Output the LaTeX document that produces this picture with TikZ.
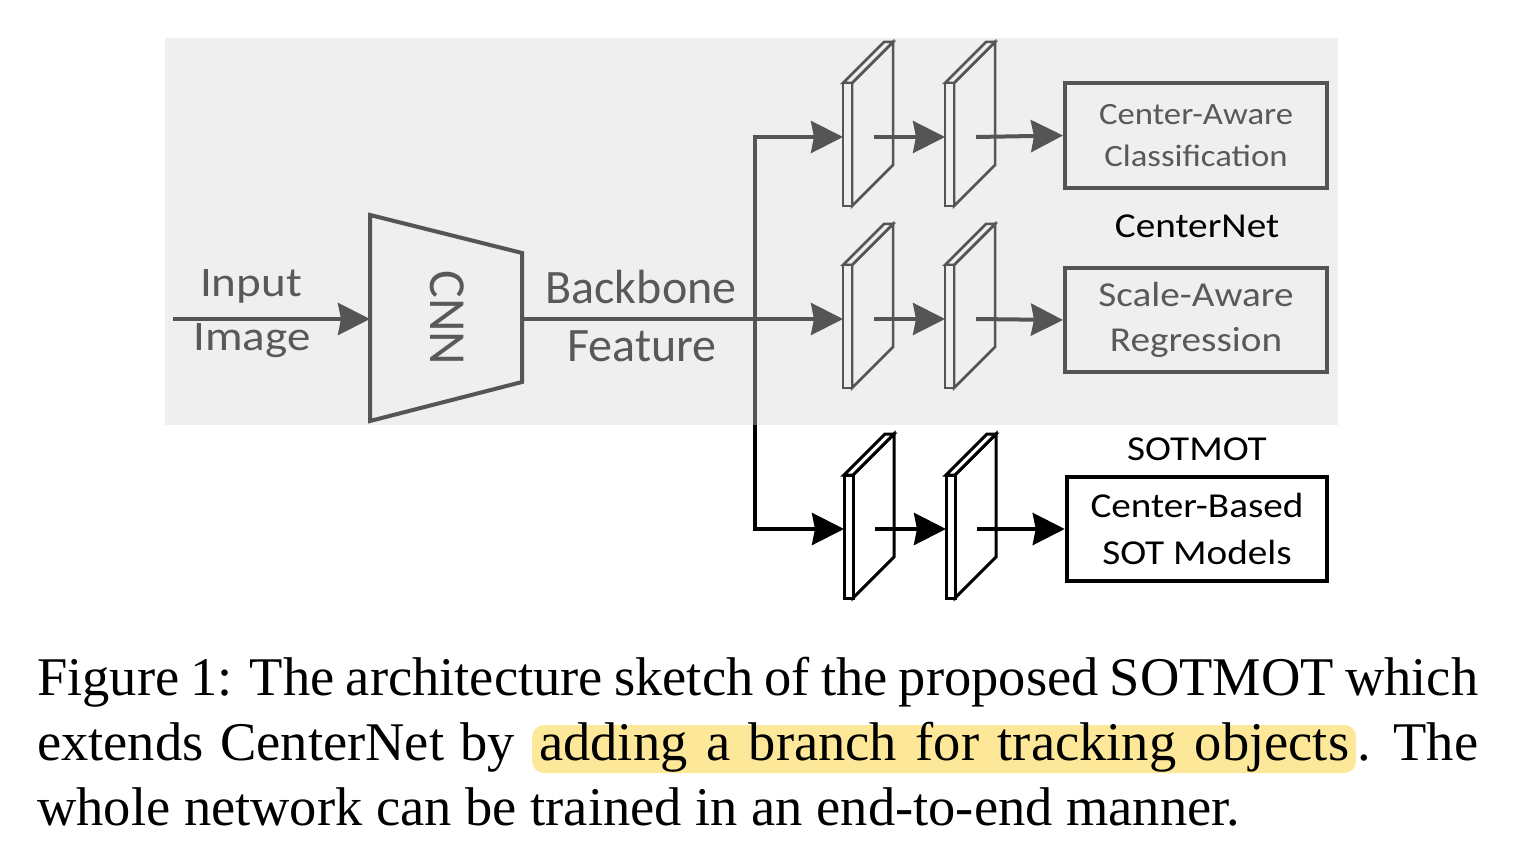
\documentclass[tikz,border=0pt]{standalone}
\usepackage{fontspec}
\setmainfont{Liberation Serif}
\newfontfamily\lab{Carlito}
\newfontfamily\labw[FakeStretch=1.12]{Carlito}
\usetikzlibrary{arrows.meta}
\definecolor{bgg}{HTML}{EFEFEF}
\definecolor{gl}{HTML}{555555}
\definecolor{gt}{HTML}{595959}
\definecolor{hl}{RGB}{253,232,154}
\tikzset{
  pics/slab/.style={code={
    \draw[pic actions] (9,-54) -- (50,-95) -- (50,28) -- (9,69) -- cycle;
    \draw[pic actions] (0,-54) -- (41,-95) -- (50,-95) -- (9,-54) -- cycle;
    \draw[pic actions] (0,-54) rectangle (9,69);
    \coordinate (-in) at (0,0);
    \coordinate (-out) at (31,0);
  }},
  tip/.style={-{Stealth[length=32pt,width=32pt,inset=3pt]}},
  garrow/.style={draw=gl, line width=4pt, tip},
  barrow/.style={draw=black, line width=4pt, tip},
  gline/.style={draw=gl, line width=4pt},
  gslab/.style={draw=gl, line width=2.5pt, fill=bgg, line join=miter},
  bslab/.style={draw=black, line width=3pt, fill=white, line join=miter},
  gbox/.style={draw=gl, line width=4pt, minimum width=262pt, inner sep=0pt, text=gt, align=center},
  bbox/.style={draw=black, line width=4.5pt, minimum width=260pt, inner sep=0pt, text=black, align=center},
  biglab/.style={anchor=base, text=gt, inner sep=0pt, font=\lab\fontsize{48}{48}\selectfont},
  midlab/.style={anchor=base, text=gt, inner sep=0pt, font=\labw\fontsize{42}{42}\selectfont},
  title/.style={anchor=base, text=black, inner sep=0pt, font=\labw\fontsize{35}{35}\selectfont},
  captext/.style={anchor=base west, inner sep=0pt, font=\fontsize{54.5}{65}\selectfont},
}
\begin{document}
\begin{tikzpicture}[x=1pt,y=-1pt]
\useasboundingbox (0,0) rectangle (1520,850);
% background panel
\fill[bgg] (165,38) rectangle (1338,425);

% CNN trapezoid
\draw[gl, line width=4pt, line join=miter] (370,215) -- (522,253) -- (522,382) -- (370,421) -- cycle;
\node[rotate=-90, text=gt, inner sep=0pt, font=\lab\fontsize{52}{52}\selectfont] (cnn) at (447,318) {CNN};
\coordinate (cnnL) at (370,319);
\coordinate (cnnR) at (522,319);
\coordinate (inp) at (173,319);
\coordinate (split) at (755,319);
\coordinate (bgend) at (755,425);

% labels
\node[midlab] (tinput) at (251,297) {Input};
\node[midlab] (timage) at (252,350) {Image};
\node[biglab] (tbackbone) at (641,303) {Backbone};
\node[biglab] (tfeature) at (642,361) {Feature};
\node[title] (tcenternet) at (1197,238) {CenterNet};
\node[title] (tsotmot) at (1197,460) {SOTMOT};

% slabs
\pic[gslab] (t1) at (843,137) {slab};
\pic[gslab] (t2) at (945,137) {slab};
\pic[gslab] (m1) at (843,319) {slab};
\pic[gslab] (m2) at (945,319) {slab};
\pic[bslab] (b1) at (844,529) {slab};
\pic[bslab] (b2) at (946,529) {slab};

% boxes
\node[gbox, minimum height=105pt, font=\labw\fontsize{31}{41.7}\selectfont] (ca) at (1196,135.5) {Center-Aware\\Classification};
\node[gbox, minimum height=104pt, font=\labw\fontsize{35}{45}\selectfont] (sa) at (1196,320) {Scale-Aware\\Regression};
\node[bbox, minimum height=104pt, font=\labw\fontsize{35}{47}\selectfont] (cb) at (1197,529) {Center-Based\\SOT Models};

% connectors
\draw[garrow] (inp) -- (cnnL);
\draw[garrow] (cnnR) -- (m1-in);
\draw[garrow] (split) |- (t1-in);
\draw[gline] (split) -- (bgend);
\draw[barrow] (bgend) |- (b1-in);
\draw[garrow] (t1-out) -- (t2-in);
\draw[garrow] (t2-out) -- (ca.west);
\draw[garrow] (m1-out) -- (m2-in);
\draw[garrow] (m2-out) -- (sa.west);
\draw[barrow] (b1-out) -- (b2-in);
\draw[barrow] (b2-out) -- (cb.west);

% caption
\node[captext] (cap1) at (37,695) {\hbox to 1441pt{Figure 1: The architecture sketch of the proposed SOTMOT which}};
\node[captext] (cap2a) at (37,760) {\hbox to 478pt{extends CenterNet by}};
\node[captext, fill=hl, rounded corners=12pt, inner xsep=7pt, text height=35pt, text depth=13pt] (cap2b) at (532,760) {\hbox to 810pt{adding a branch for tracking objects}};
\node[captext] (cap2c) at (1357,760) {.\hspace{22.7pt}The};
\node[captext] (cap3) at (37,825) {whole network can be trained in an end-to-end manner.};
\end{tikzpicture}
\end{document}
